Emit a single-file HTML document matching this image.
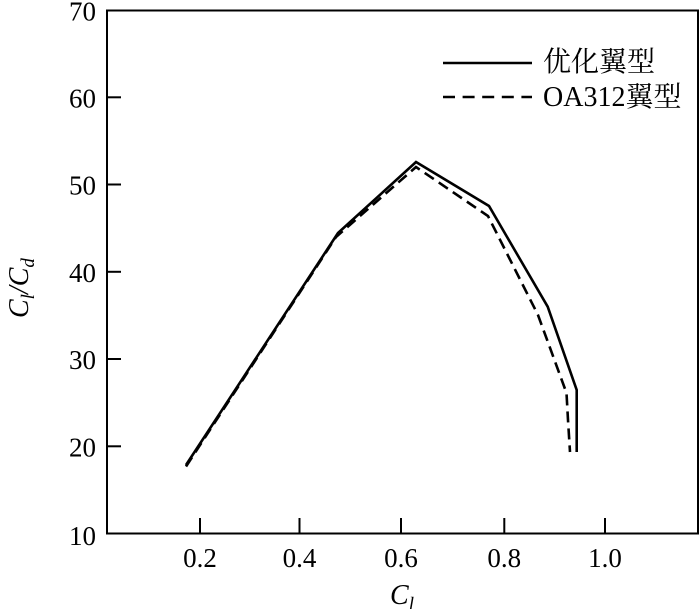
<!DOCTYPE html>
<html>
<head>
<meta charset="utf-8">
<style>
html,body{margin:0;padding:0;background:#fff;}
svg{display:block;}
.t{font-family:"Liberation Serif","Noto Serif CJK SC",serif;font-size:27px;fill:#000;}
.c{font-family:"Noto Serif CJK SC","Noto Serif CJK JP","Noto Serif CJK TC",serif;font-size:28px;fill:#000;}
.l{font-family:"Liberation Serif",serif;}
</style>
</head>
<body>
<svg width="700" height="609" viewBox="0 0 700 609" xmlns="http://www.w3.org/2000/svg">
  <rect x="107" y="10.5" width="591" height="523" fill="none" stroke="#000" stroke-width="2"/>
  <g stroke="#000" stroke-width="2">
    <line x1="107" y1="97.3" x2="121" y2="97.3"/>
    <line x1="107" y1="184.5" x2="121" y2="184.5"/>
    <line x1="107" y1="271.8" x2="121" y2="271.8"/>
    <line x1="107" y1="359" x2="121" y2="359"/>
    <line x1="107" y1="446.3" x2="121" y2="446.3"/>
    <line x1="200" y1="533.5" x2="200" y2="518"/>
    <line x1="299.5" y1="533.5" x2="299.5" y2="518"/>
    <line x1="401" y1="533.5" x2="401" y2="518"/>
    <line x1="504.3" y1="533.5" x2="504.3" y2="518"/>
    <line x1="605" y1="533.5" x2="605" y2="518"/>
  </g>
  <g class="t" text-anchor="end">
    <text x="96" y="20.5">70</text>
    <text x="96" y="107.5">60</text>
    <text x="96" y="194.5">50</text>
    <text x="96" y="282">40</text>
    <text x="96" y="369">30</text>
    <text x="96" y="456.5">20</text>
    <text x="96" y="545">10</text>
  </g>
  <g class="t" text-anchor="middle">
    <text x="200" y="567">0.2</text>
    <text x="299.5" y="567">0.4</text>
    <text x="401" y="567">0.6</text>
    <text x="504.3" y="567">0.8</text>
    <text x="605" y="567">1.0</text>
  </g>
  <text x="390" y="604" style="font-family:'Liberation Serif',serif;font-size:28px;font-style:italic;">C<tspan font-size="19" dy="6">l</tspan></text>
  <text transform="translate(28,318) rotate(-90)" style="font-family:'Liberation Serif',serif;font-size:28px;font-style:italic;">C<tspan font-size="19" dy="6">l</tspan><tspan dy="-6">/C</tspan><tspan font-size="19" dy="6">d</tspan></text>
  <polyline points="186,465 338,233 416,162 489,206 547.7,306.7 576.7,390 576.7,452" fill="none" stroke="#000" stroke-width="2.6" stroke-linejoin="miter"/>
  <polyline points="186,466.5 336,237 416,167 488,216 538,315 566.5,393 568,420 570,452" fill="none" stroke="#000" stroke-width="2.6" stroke-dasharray="11,6"/>
  <line x1="443" y1="63" x2="532" y2="63" stroke="#000" stroke-width="2.6"/>
  <line x1="443" y1="97" x2="532" y2="97" stroke="#000" stroke-width="2.6" stroke-dasharray="12,7.6"/>
  <text class="c" x="543" y="71">优化翼型</text>
  <text class="c" x="543" y="106"><tspan class="l">OA312</tspan>翼型</text>
</svg>
</body>
</html>
